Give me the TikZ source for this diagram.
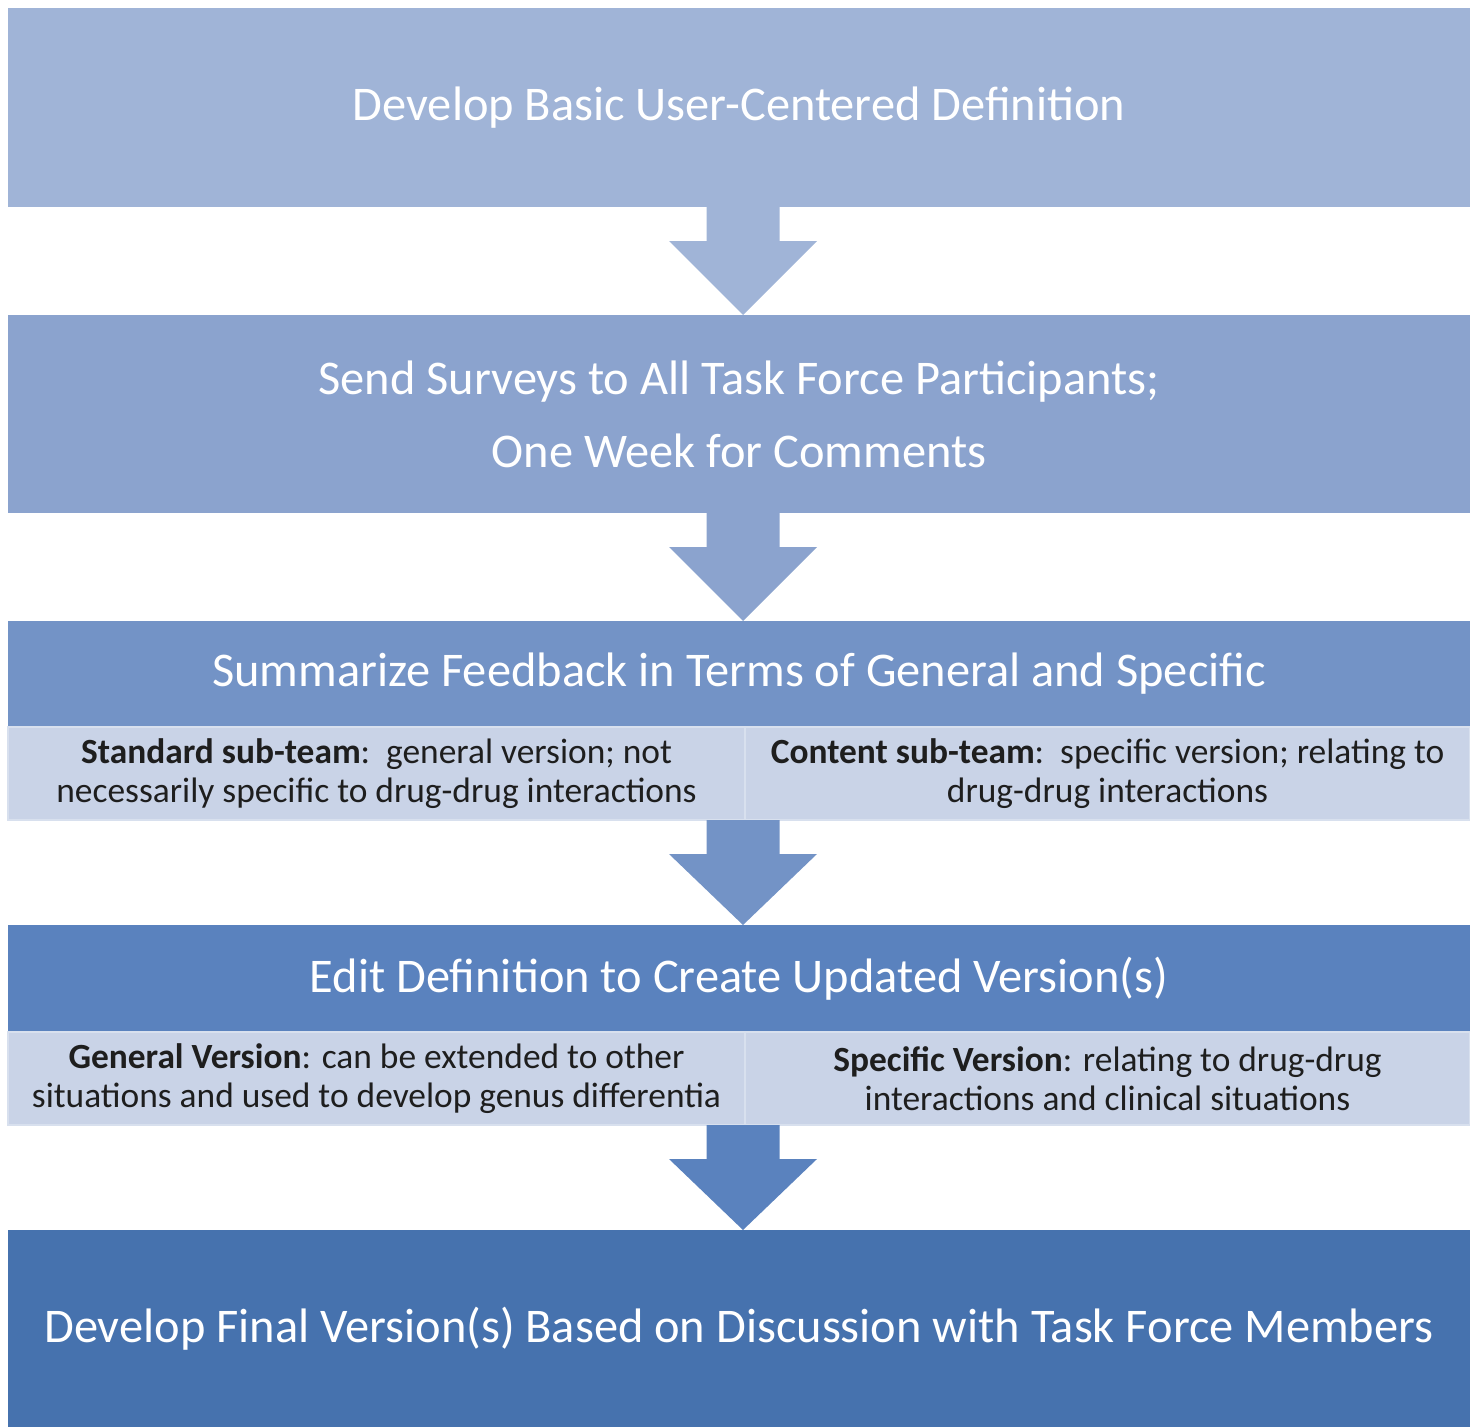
\documentclass[tikz,border=0pt]{standalone}
\usepackage{fontspec}
\setmainfont{Carlito}
\usetikzlibrary{calc}
\definecolor{stepone}{HTML}{A0B4D7}
\definecolor{steptwo}{HTML}{8BA3CE}
\definecolor{stepthree}{HTML}{7393C6}
\definecolor{stepfour}{HTML}{5A82BE}
\definecolor{stepfive}{HTML}{4672AE}
\definecolor{notefill}{HTML}{C9D3E7}
\definecolor{noteedge}{HTML}{D8E0EE}
\definecolor{notetext}{HTML}{1E1E1E}

% block arrow from a top-centre point to a tip point
\newcommand{\flowarrow}[3]{%
  \fill[#3] let \p1=(#1), \p2=(#2) in
    (\x2-36.5pt,\y1) -- (\x2-36.5pt,\y1-34pt) -- (\x2-74pt,\y1-34pt) --
    (\x2,\y2) -- (\x2+74pt,\y1-34pt) -- (\x2+36.5pt,\y1-34pt) --
    (\x2+36.5pt,\y1) -- cycle;}

\begin{document}
\begin{tikzpicture}[x=1pt,y=-1pt,
  stage/.style={rectangle, inner sep=0pt, outer sep=0pt, minimum width=1462pt,
    text=white, font=\fontsize{48.4}{73}\selectfont, align=center},
  note/.style={rectangle, fill=notefill, draw=noteedge, line width=1.2pt,
    inner sep=0pt, outer sep=0pt, minimum height=93pt, text=notetext,
    font=\fontsize{35.4}{39}\selectfont, align=center}]
\useasboundingbox (0,0) rectangle (1470,1427);

% stages
\node[stage, fill=stepone, minimum height=199pt] (b1) at (739,107.5)
  {Develop Basic User-Centered Definition};
\node[stage, fill=steptwo, minimum height=198pt] (b2) at (739,414)
  {Send Surveys to All Task Force Participants;\\One Week for Comments};
\node[stage, fill=stepthree, minimum height=106pt] (b3) at (739,674)
  {Summarize Feedback in Terms of General and Specific};
\node[note, minimum width=737pt] (s3a) at (376.5,773.5)
  {\textbf{Standard sub-team}:\ \ general version; not\\necessarily specific to drug-drug interactions};
\node[note, minimum width=725pt] (s3b) at (1107.5,773.5)
  {\textbf{Content sub-team}:\ \ specific version; relating to\\drug-drug interactions};
\node[stage, fill=stepfour, minimum height=107pt] (b4) at (739,978.5)
  {Edit Definition to Create Updated Version(s)};
\node[note, minimum width=737pt] (s4a) at (376.5,1078.5)
  {\textbf{General Version}: can be extended to other\\situations and used to develop genus differentia};
\node[note, minimum width=725pt] (s4b) at (1107.5,1078.5)
  {\textbf{Specific Version}: relating to drug-drug\\interactions and clinical situations};
\node[stage, fill=stepfive, minimum height=197pt] (b5) at (739,1328.5)
  {Develop Final Version(s) Based on Discussion with Task Force Members};

% arrow end points
\coordinate (a1) at ($(b1.south)+(4,0)$);
\coordinate (t1) at ($(b2.north)+(4,0)$);
\coordinate (a2) at ($(b2.south)+(4,0)$);
\coordinate (t2) at ($(b3.north)+(4,0)$);
\coordinate (a3) at ($(s3a.south east)+(-2,0)$);
\coordinate (t3) at ($(b4.north)+(4,0)$);
\coordinate (a4) at ($(s4a.south east)+(-2,0)$);
\coordinate (t4) at ($(b5.north)+(4,0)$);

% connectors
\flowarrow{a1}{t1}{stepone}
\flowarrow{a2}{t2}{steptwo}
\flowarrow{a3}{t3}{stepthree}
\flowarrow{a4}{t4}{stepfour}
\end{tikzpicture}
\end{document}
